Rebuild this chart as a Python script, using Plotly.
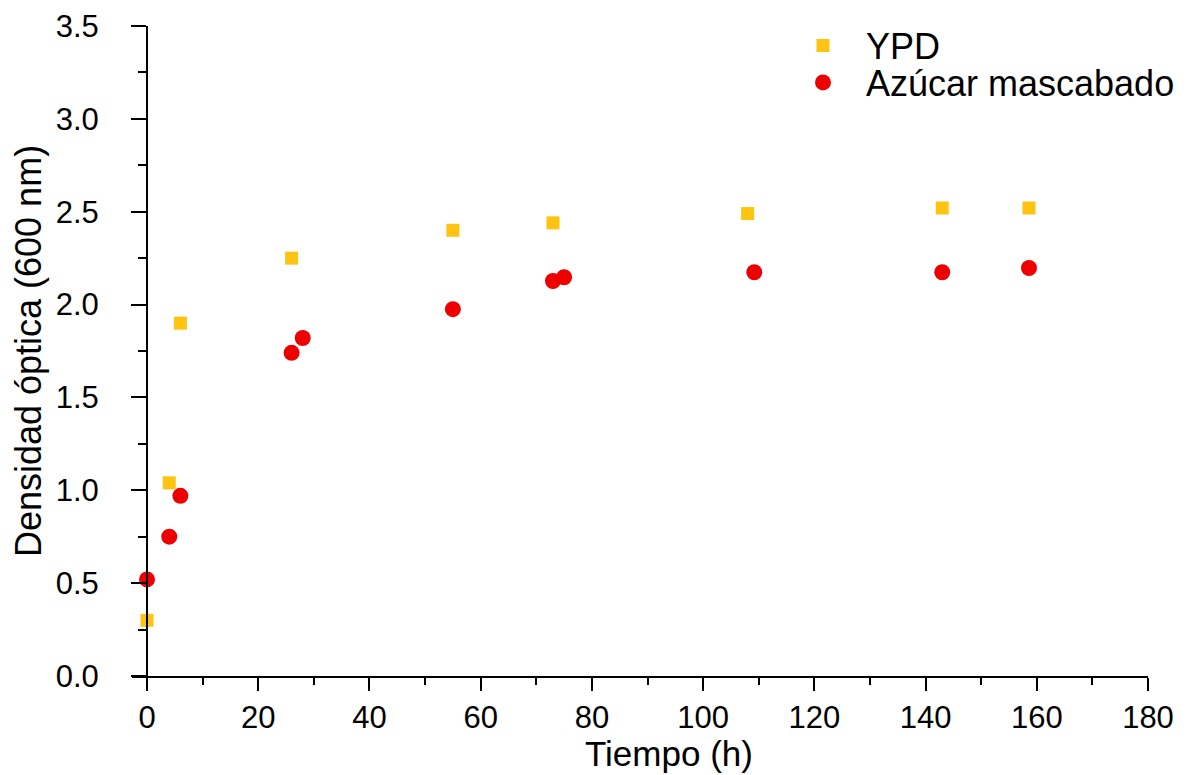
import plotly.graph_objects as go

# Data
ypd_t = [0, 4, 6, 26, 55, 73, 108, 143, 158.6]
ypd_od = [0.30, 1.04, 1.90, 2.25, 2.40, 2.44, 2.49, 2.52, 2.52]

mas_t = [0, 4, 6, 26, 28, 55, 73, 75, 109.2, 143, 158.6]
mas_od = [0.52, 0.75, 0.97, 1.74, 1.82, 1.975, 2.127, 2.147, 2.174, 2.174, 2.197]

x_ticks = [0, 20, 40, 60, 80, 100, 120, 140, 160, 180]
y_ticks = [0.0, 0.5, 1.0, 1.5, 2.0, 2.5, 3.0, 3.5]
y_labels = [f"{v:.1f}" for v in y_ticks]

FONT = "Arial, Liberation Sans, sans-serif"
X_MIN, X_MAX = -2.7, 180

fig = go.Figure()
fig.add_trace(go.Scatter(
    x=ypd_t, y=ypd_od, mode="markers", name="YPD",
    marker=dict(symbol="square", size=13, color="#FFC312", line=dict(width=0)),
    legend="legend",
))
fig.add_trace(go.Scatter(
    x=mas_t, y=mas_od, mode="markers", name="Azúcar mascabado",
    marker=dict(symbol="circle", size=16, color="#EE0000", line=dict(width=0)),
    legend="legend2",
))

OFF = 8  # page body margin
W, H = 1190, 775
L, T = 132 - OFF, 26 - OFF
R = W - (1148 - OFF)
B = H - (676 - OFF)
pw = W - L - R
ph = H - T - B

def lx(px):
    return (px - OFF - L) / pw

def ly(py):
    return (H - B - (py - OFF)) / ph

fig.update_layout(
    width=W, height=H,
    margin=dict(l=L, r=R, t=T, b=B, autoexpand=False),
    plot_bgcolor="white", paper_bgcolor="white",
    font=dict(family=FONT, color="black"),
    showlegend=True,
    legend=dict(x=lx(780), y=ly(15.5), xanchor="left", yanchor="top",
                font=dict(size=36, family=FONT), bgcolor="rgba(0,0,0,0)",
                itemwidth=76),
    legend2=dict(x=lx(780), y=ly(52.5), xanchor="left", yanchor="top",
                 font=dict(size=36, family=FONT), bgcolor="rgba(0,0,0,0)",
                 itemwidth=76),
    xaxis=dict(
        range=[X_MIN, X_MAX], tickvals=x_ticks, ticktext=[str(v) for v in x_ticks],
        showgrid=False, zeroline=False, showline=True, linecolor="black", linewidth=2,
        ticks="outside", ticklen=13, tickwidth=2, tickcolor="black",
        tickfont=dict(size=31, family=FONT), ticklabelstandoff=0,
        minor=dict(dtick=10, tick0=0, ticks="outside", ticklen=7, tickwidth=2, tickcolor="black"),
    ),
    yaxis=dict(
        range=[0, 3.5], tickvals=y_ticks, ticktext=y_labels,
        anchor="free", position=(0 - X_MIN) / (X_MAX - X_MIN),
        showgrid=False, zeroline=False, showline=True, linecolor="black", linewidth=2,
        ticks="outside", ticklen=15, tickwidth=2, tickcolor="black",
        tickfont=dict(size=31, family=FONT), ticklabelstandoff=26,
        minor=dict(dtick=0.25, tick0=0, ticks="outside", ticklen=8, tickwidth=2, tickcolor="black"),
        title=dict(text="Densidad óptica (600 nm)", font=dict(size=36, family=FONT), standoff=6),
    ),
    annotations=[dict(
        text="Tiempo (h)", xref="paper", yref="paper",
        x=lx(669), y=ly(753), xanchor="center", yanchor="middle",
        showarrow=False, font=dict(size=35, family=FONT, color="black"),
    )],
)

fig.write_html("out.html")
